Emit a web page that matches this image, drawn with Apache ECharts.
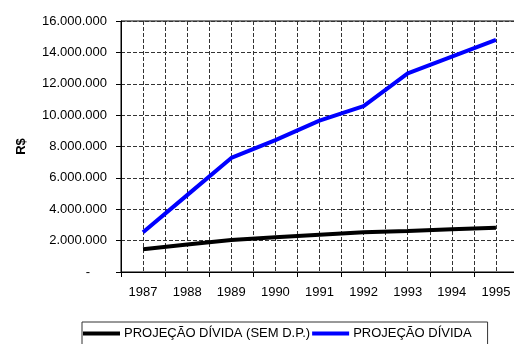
<!DOCTYPE html>
<html>
<head>
<meta charset="utf-8">
<script src="https://cdn.jsdelivr.net/npm/echarts@6/dist/echarts.min.js"></script>
<style>
  html, body { margin: 0; padding: 0; background: #fff; }
  #chart { width: 514px; height: 344px; }
</style>
</head>
<body>
<div id="chart"></div>
<script>
// Anos da projeção
const years = ['1987', '1988', '1989', '1990', '1991', '1992', '1993', '1994', '1995'];
// Projeção da dívida sem D.P. (R$)
const semDP = [1450000, 1750000, 2040000, 2210000, 2380000, 2530000, 2610000, 2720000, 2820000];
// Projeção da dívida (R$)
const divida = [2530000, 4900000, 7270000, 8410000, 9650000, 10580000, 12660000, 13730000, 14790000];
// Marcas do eixo de valores
const yTicks = [0, 2000000, 4000000, 6000000, 8000000, 10000000, 12000000, 14000000, 16000000];

const font = '"Liberation Sans", Arial, sans-serif';
const gridLine = { color: '#333', type: [4, 2], width: 1 };

function fmtBR(v) {
  return String(Math.round(v)).replace(/\B(?=(\d{3})+(?!\d))/g, '.');
}

const chart = echarts.init(document.getElementById('chart'), null, { renderer: 'canvas' });

chart.setOption({
  animation: false,
  backgroundColor: '#fff',
  grid: {
    left: 121, top: 21, right: -4, bottom: 72,
    outerBoundsMode: 'none',
    containLabel: false,
    show: true, borderColor: '#000', borderWidth: 1, backgroundColor: 'transparent'
  },
  xAxis: [
    {
      type: 'category',
      data: years,
      boundaryGap: true,
      axisLine: { lineStyle: { color: '#000', width: 1 } },
      axisTick: { show: true, length: 5, lineStyle: { color: '#000' } },
      axisLabel: { color: '#000', fontFamily: font, fontSize: 13, margin: 14 },
      splitLine: { show: false }
    },
    {
      // grade vertical a cada meio ano (limites e centros das categorias)
      type: 'value',
      min: 1986.5, max: 1995.5, interval: 0.5,
      position: 'bottom',
      axisLine: { show: false },
      axisTick: { show: false },
      axisLabel: { show: false },
      splitLine: { show: true, lineStyle: gridLine }
    }
  ],
  yAxis: {
    type: 'value',
    min: yTicks[0],
    max: yTicks[yTicks.length - 1],
    interval: yTicks[1] - yTicks[0],
    name: 'R$',
    nameLocation: 'middle',
    nameGap: 93,
    nameRotate: 90,
    nameTextStyle: { color: '#000', fontFamily: font, fontSize: 13, fontWeight: 'bold' },
    axisLine: { show: true, lineStyle: { color: '#000', width: 1 } },
    axisTick: { show: true, length: 5, lineStyle: { color: '#000' } },
    axisLabel: {
      color: '#000', fontFamily: font, fontSize: 13, margin: 14,
      formatter: function (v) { return v === 0 ? '{z|-}' : fmtBR(v); },
      rich: { z: { color: '#000', fontFamily: font, fontSize: 13, padding: [0, 17, 0, 0] } }
    },
    splitLine: { show: true, lineStyle: gridLine }
  },
  legend: {
    left: 82, top: 322,
    orient: 'horizontal',
    padding: [5, 16, 12, 1],
    itemGap: 2,
    itemWidth: 37, itemHeight: 4,
    icon: 'rect',
    borderColor: '#333', borderWidth: 1,
    textStyle: { color: '#000', fontFamily: font, fontSize: 13, padding: [0, 0, 0, -1] },
    data: ['PROJEÇÃO DÍVIDA (SEM D.P.)', 'PROJEÇÃO DÍVIDA']
  },
  series: [
    {
      name: 'PROJEÇÃO DÍVIDA (SEM D.P.)',
      type: 'line',
      xAxisIndex: 0,
      data: semDP,
      showSymbol: false,
      symbol: 'none',
      lineStyle: { color: '#000', width: 4 },
      itemStyle: { color: '#000' },
      z: 3
    },
    {
      name: 'PROJEÇÃO DÍVIDA',
      type: 'line',
      xAxisIndex: 0,
      data: divida,
      showSymbol: false,
      symbol: 'none',
      lineStyle: { color: '#0000ff', width: 4 },
      itemStyle: { color: '#0000ff' },
      z: 4
    }
  ]
});
</script>
</body>
</html>
